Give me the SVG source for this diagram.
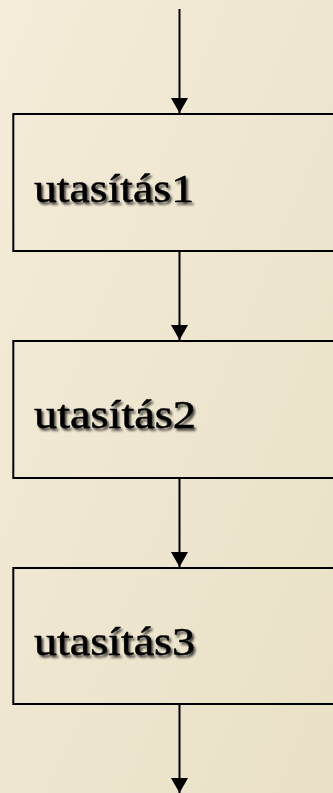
<svg xmlns="http://www.w3.org/2000/svg" width="333" height="793" viewBox="0 0 333 793">
  <defs>
    <linearGradient id="bg" x1="0" y1="0" x2="1" y2="1">
      <stop offset="0" stop-color="#f5ecd9"/>
      <stop offset="1" stop-color="#e9e0c7"/>
    </linearGradient>
    <filter id="shadow" x="-10%" y="-30%" width="130%" height="170%">
      <feDropShadow dx="2" dy="2.5" stdDeviation="1.3" flood-color="#000" flood-opacity="0.7"/>
    </filter>
    <marker id="head" markerUnits="userSpaceOnUse" markerWidth="18" markerHeight="18" refX="15" refY="8.5" orient="auto">
      <path d="M0,0 L15,8.5 L0,17 Z" fill="#000"/>
    </marker>
  </defs>
  <style>
    .box { fill: none; stroke: #000; stroke-width: 2; }
    .lbl { font-family: "Liberation Serif", "Times New Roman", serif; font-size: 40px; fill: #000; stroke: #000; stroke-width: 0.5; filter: url(#shadow); }
    .flow { stroke: #000; stroke-width: 2; fill: none; marker-end: url(#head); }
  </style>

  <rect width="333" height="793" fill="url(#bg)"/>

  <!-- sequence connectors -->
  <g id="connectors">
    <line class="flow" x1="179.5" y1="9" x2="179.5" y2="113"/>
    <line class="flow" x1="179.5" y1="251" x2="179.5" y2="340"/>
    <line class="flow" x1="179.5" y1="478" x2="179.5" y2="567"/>
    <line class="flow" x1="179.5" y1="704" x2="179.5" y2="793"/>
  </g>

  <g id="step1">
    <rect class="box" x="13.3" y="114" width="330" height="137"/>
    <text class="lbl" x="34" y="202" textLength="160" lengthAdjust="spacingAndGlyphs">utasítás1</text>
  </g>
  <g id="step2">
    <rect class="box" x="13.3" y="341" width="330" height="137"/>
    <text class="lbl" x="34" y="428" textLength="162" lengthAdjust="spacingAndGlyphs">utasítás2</text>
  </g>
  <g id="step3">
    <rect class="box" x="13.3" y="568" width="330" height="136"/>
    <text class="lbl" x="34" y="655" textLength="161" lengthAdjust="spacingAndGlyphs">utasítás3</text>
  </g>
</svg>
